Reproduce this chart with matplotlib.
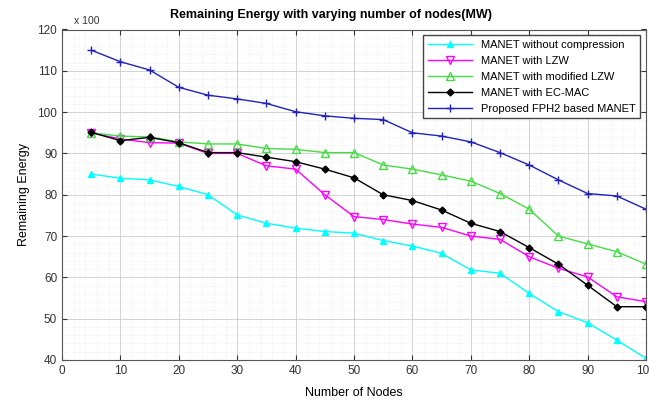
import numpy as np
from matplotlib import pyplot as plt
from matplotlib.ticker import MultipleLocator

plt.rcParams['font.family'] = ['Liberation Sans', 'DejaVu Sans']

nodes = [5, 10, 15, 20, 25, 30, 35, 40, 45, 50, 55, 60, 65, 70, 75, 80, 85, 90, 95, 100]

no_compression = [85, 84, 83.6, 82, 80, 75.1, 73.1, 71.9, 71.1, 70.7, 68.9, 67.6, 65.8, 61.8, 61, 56.1, 51.7, 49, 44.8, 40.4]
lzw = [95, 93.5, 92.6, 92.5, 90, 90, 87, 86.2, 80, 74.7, 74, 72.9, 72.1, 70, 69.2, 65, 62.2, 60.1, 55.3, 54.1]
modified_lzw = [95, 94.2, 94, 92.8, 92.3, 92.3, 91.2, 91, 90.2, 90.2, 87.2, 86.2, 84.8, 83.3, 80.3, 76.5, 70, 68.1, 66.2, 63.2]
ec_mac = [95.1, 93.1, 93.9, 92.6, 90.2, 90.2, 89.1, 88, 86.2, 84.1, 80, 78.6, 76.3, 73.1, 71.1, 67.2, 63.2, 58.1, 52.9, 52.9]
fph2 = [115, 112.2, 110.2, 106, 104.1, 103.2, 102.1, 100.1, 99.1, 98.5, 98.2, 95, 94.2, 92.8, 90.2, 87.2, 83.6, 80.3, 79.7, 76.5]

labels = ['MANET without compression', 'MANET with LZW', 'MANET with modified LZW',
          'MANET with EC-MAC', 'Proposed FPH2 based MANET']

fig = plt.figure(figsize=(6.49, 4.01), dpi=100)
ax = fig.add_axes([62 / 649, 1 - 360 / 401, 584 / 649, 330.5 / 401])

ax.plot(nodes, no_compression, color='cyan', marker='^', markersize=5, lw=1,
        markerfacecolor='cyan', label=labels[0])
ax.plot(nodes, lzw, color='magenta', marker='v', markersize=6, lw=1,
        markerfacecolor='none', label=labels[1])
ax.plot(nodes, modified_lzw, color='#44dd44', marker='^', markersize=6, lw=1,
        markerfacecolor='none', label=labels[2])
ax.plot(nodes, ec_mac, color='black', marker='D', markersize=3.5, lw=1,
        label=labels[3])
ax.plot(nodes, fph2, color='#2222bb', marker='+', markersize=6, lw=1,
        label=labels[4])

ax.set_xlim(0, 100)
ax.set_ylim(40, 120)
ax.xaxis.set_major_locator(MultipleLocator(10))
ax.yaxis.set_major_locator(MultipleLocator(10))
ax.xaxis.set_minor_locator(MultipleLocator(2))
ax.yaxis.set_minor_locator(MultipleLocator(2))
ax.grid(which='major', color='#cccccc', lw=0.6)
ax.grid(which='minor', color='#e8e8e8', lw=0.5, ls=':')
ax.tick_params(which='both', direction='in', top=True, right=True, labelsize=8.5, colors='#333333')
ax.tick_params(which='minor', length=0)
for s in ax.spines.values():
    s.set_color('#555555')

# title sits a bit left of the axes centre in the original
fig.text(331 / 649, 1 - 15 / 401, 'Remaining Energy with varying number of nodes(MW)',
         fontsize=9, fontweight='bold', ha='center', va='center')
ax.text(0.02, 1.01, 'x 100', transform=ax.transAxes, fontsize=7.5, va='bottom', color='#333333')
ax.set_xlabel('Number of Nodes', fontsize=9, labelpad=7)
ax.set_ylabel('Remaining Energy', fontsize=9, labelpad=5)

leg = ax.legend(loc='upper right', fontsize=8, fancybox=False, framealpha=1,
                edgecolor='#444444', handlelength=4, borderpad=0.4, labelspacing=0.55,
                bbox_to_anchor=(1.0, 1.0))

fig.savefig('out.png', dpi=100)
